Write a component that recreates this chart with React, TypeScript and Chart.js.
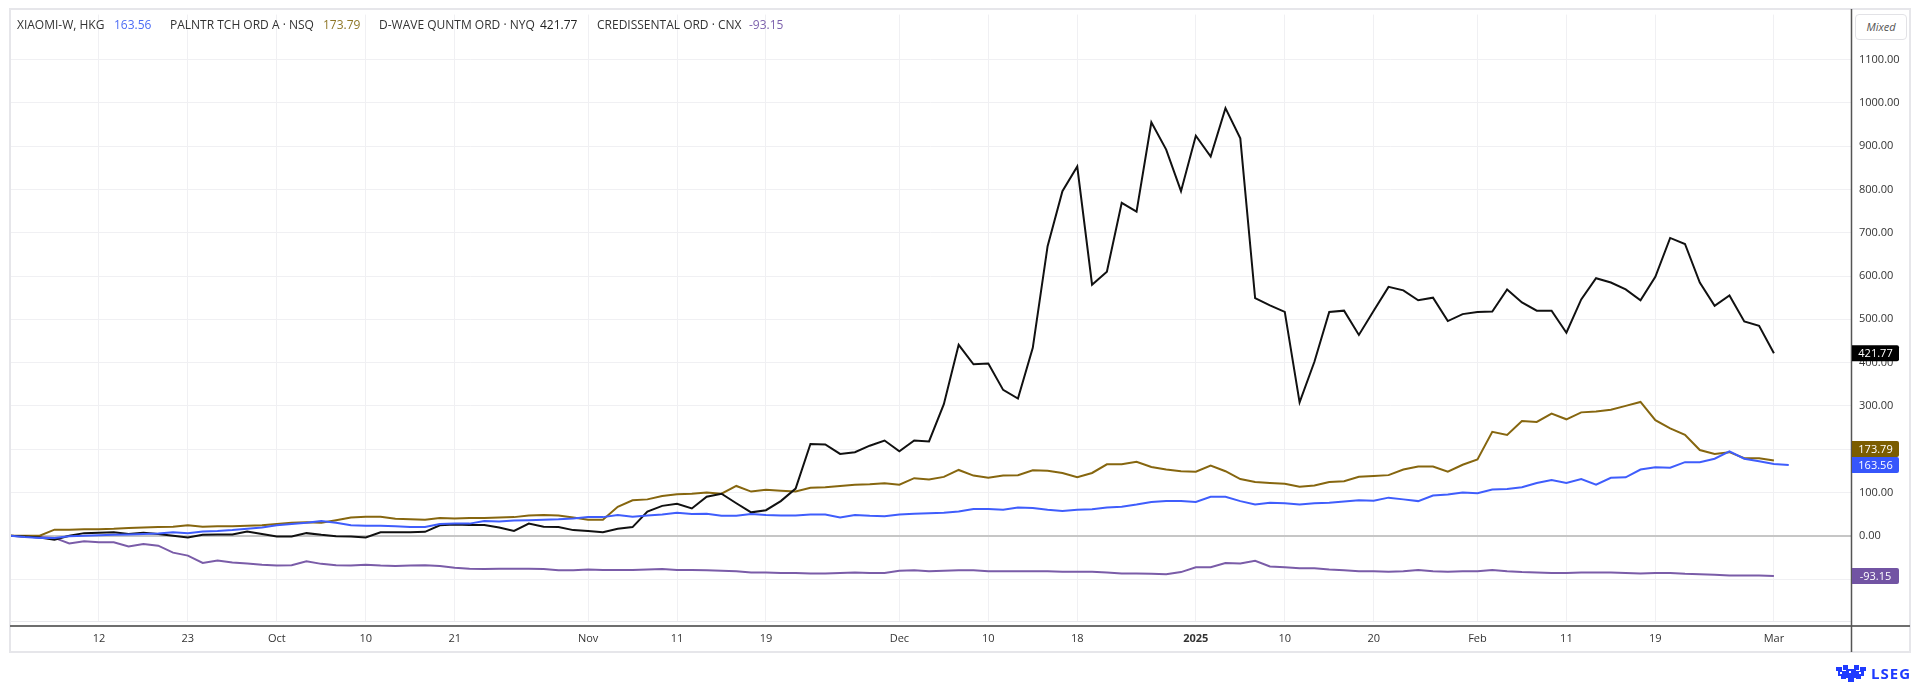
import { useEffect, useRef } from "react";
import { Chart, registerables } from "chart.js";

Chart.register(...registerables);

// HKG trading-day index 0 = 2024-09-04 ... 120 = 2025-03-04
const tickIdx = [6, 12, 18, 24, 30, 39, 45, 51, 60, 66, 72, 80, 86, 92, 99, 105, 111, 119];
const tickLabels = ["12", "23", "Oct", "10", "21", "Nov", "11", "19", "Dec", "10", "18", "2025", "10", "20", "Feb", "11", "19", "Mar"];
const yTicks = [-100, 0, 100, 200, 300, 400, 500, 600, 700, 800, 900, 1000, 1100];

const xiaomi = [
  0, -3, -5, -5, -1, 0, 1, 2, 3, 4, 5, 8, 6, 10, 11, 13, 16, 19, 24, 27,
  30, 34, 30, 24, 23, 23, 22, 20, 20, 27, 28, 28, 34, 33, 35, 36, 37, 38, 40, 43,
  43, 48, 44, 47, 49, 53, 50, 51, 46, 46, 50, 48, 47, 47, 49, 49, 42, 48, 46, 45,
  49, 51, 52, 53, 56, 62, 62, 60, 65, 64, 60, 57, 60, 61, 65, 67, 72, 78, 80, 80,
  78, 90, 90, 80, 72, 76, 75, 72, 75, 76, 79, 82, 81, 88, 84, 80, 93, 95, 100, 98,
  107, 108, 112, 122, 129, 122, 131, 118, 134, 135, 153, 158, 157, 170, 170, 178, 195, 178, 172, 166,
  163.56,
];

const palantir = [
  0, 0, 0, 14, 14, 15, 15, 16, 18, 19, 20, 21, 24, 21, 22, 22, 23, 24, 27, 30,
  31, 30, 36, 42, 44, 44, 39, 38, 37, 41, 40, 41, 41, 42, 43, 47, 48, 47, 42, 37,
  37, 67, 82, 84, 92, 96, 97, 100, 97, 115, 102, 106, 104, 102, 111, 112, 115, 118, 119, 121,
  118, 133, 130, 136, 152, 139, 134, 139, 140, 151, 150, 145, 135, 145, 165, 165, 171, 159, 153, 149,
  148, 162, 149, 131, 124, 122, 120, 113, 116, 124, 126, 136, 138, 140, 153, 160, 160, 148, 164, 176,
  240, 233, 265, 263, 282, 269, 285, 287, 291, 300, 309, 267, 248, 233, 198, 189, 193, 179, 179, 173.79,
];

const dwave = [
  0, -2, -4, -9, 0, 6, 7, 8, 4, 7, 4, 0, -4, 2, 3, 3, 10, 4, -2, -2,
  6, 2, -1, -2, -4, 8, 8, 8, 9, 24, 26, 25, 25, 19, 11, 28, 21, 20, 13, 11,
  8, 16, 20, 56, 69, 74, 63, 90, 97, 75, 54, 59, 80, 109, 212, 211, 189, 193, 208, 220,
  195, 220, 218, 304, 441, 396, 398, 337, 317, 434, 669, 796, 853, 580, 610, 769, 749, 955, 892, 796,
  924, 876, 988, 918, 549, 532, 517, 308, 402, 517, 520, 464, 520, 575, 567, 544, 550, 496, 512, 517,
  518, 569, 539, 520, 520, 469, 546, 595, 585, 569, 544, 598, 688, 674, 585, 531, 555, 495, 485, 421.77,
];

const credissental = [
  0, -2, -3, -5, -18, -13, -15, -15, -25, -19, -23, -39, -46, -63, -57, -62, -64, -67, -69, -68,
  -59, -65, -68, -69, -67, -69, -70, -69, -68, -70, -74, -76, -77, -76, -76, -76, -77, -80, -80, -78,
  -79, -79, -79, -78, -77, -79, -79, -80, -81, -82, -85, -85, -86, -86, -87, -87, -86, -85, -86, -86,
  -81, -80, -82, -81, -80, -80, -82, -82, -82, -82, -82, -83, -83, -83, -85, -87, -87, -88, -89, -84,
  -73, -73, -63, -64, -58, -71, -73, -75, -75, -78, -80, -82, -82, -83, -82, -79, -82, -83, -82, -82,
  -79, -82, -84, -85, -86, -86, -85, -85, -85, -86, -87, -86, -86, -88, -89, -90, -92, -92, -92, -93.15,
];

const seriesNames = ["XIAOMI-W, HKG", "PALNTR TCH ORD A · NSQ", "D-WAVE QUNTM ORD · NYQ", "CREDISSENTAL ORD · CNX"];
const lineColors = ["#3f5dfc", "#86660f", "#111111", "#7a5ca8"];
const tagColors = ["#3656fb", "#7b5d00", "#000000", "#7254a3"];
const legendValueColors = ["#4c6cf5", "#8f7727", "#222222", "#7d62ad"];

const FONT = "'Open Sans', 'Noto Sans', sans-serif";

export default function App() {
  const ref = useRef<HTMLCanvasElement>(null);

  useEffect(() => {
    document.body.style.margin = "0";
    const canvas = ref.current;
    if (!canvas) return;
    const all = [xiaomi, palantir, dwave, credissental];

    const framePlugin = {
      id: "frame",
      beforeDraw(chart: any) {
        const c = chart.ctx;
        c.save();
        c.fillStyle = "#ffffff";
        c.fillRect(0, 0, chart.width, chart.height);
        c.restore();
      },
      afterDraw(chart: any) {
        const c = chart.ctx;
        const area = chart.chartArea;
        c.save();
        // outer frame
        c.strokeStyle = "#e6e6ea";
        c.lineWidth = 2;
        c.strokeRect(10, 9, 1900, 643);
        // plot bottom light line
        c.strokeStyle = "#e8e8ec";
        c.lineWidth = 1;
        c.beginPath();
        c.moveTo(10, area.bottom + 0.5);
        c.lineTo(area.right, area.bottom + 0.5);
        c.stroke();
        // x axis dark line
        c.strokeStyle = "#6e6e6e";
        c.lineWidth = 2;
        c.beginPath();
        c.moveTo(10, 626);
        c.lineTo(1910, 626);
        c.stroke();
        // y axis dark line
        c.strokeStyle = "#555555";
        c.lineWidth = 1.5;
        c.beginPath();
        c.moveTo(area.right + 0.5, 9);
        c.lineTo(area.right + 0.5, 652);
        c.stroke();

        // price tags
        const y = chart.scales.y;
        const tags = all.map((arr, i) => ({ i, v: arr[arr.length - 1], py: y.getPixelForValue(arr[arr.length - 1]) }));
        const h = 16;
        tags.sort((a, b) => b.py - a.py);
        for (let k = 1; k < tags.length; k++) {
          if (tags[k - 1].py - tags[k].py < h) tags[k].py = tags[k - 1].py - h;
        }
        c.font = `11px ${FONT}`;
        c.textAlign = "center";
        c.textBaseline = "middle";
        tags.forEach((t) => {
          c.fillStyle = tagColors[t.i];
          c.beginPath();
          const x0 = area.right + 1;
          const w = 47;
          c.moveTo(x0, t.py - h / 2);
          c.lineTo(x0 + w - 2, t.py - h / 2);
          c.quadraticCurveTo(x0 + w, t.py - h / 2, x0 + w, t.py - h / 2 + 2);
          c.lineTo(x0 + w, t.py + h / 2 - 2);
          c.quadraticCurveTo(x0 + w, t.py + h / 2, x0 + w - 2, t.py + h / 2);
          c.lineTo(x0, t.py + h / 2);
          c.closePath();
          c.fill();
          c.fillStyle = "#ffffff";
          c.fillText(t.v.toFixed(2), x0 + w / 2, t.py + 0.5);
        });
        c.restore();
      },
    };

    const mk = (arr: number[], i: number) => ({
      label: seriesNames[i],
      data: arr.map((v, k) => ({ x: k, y: v })),
      borderColor: lineColors[i],
      backgroundColor: lineColors[i],
      borderWidth: 2,
      pointRadius: 0,
      tension: 0,
      fill: false,
    });

    const chart = new Chart(canvas, {
      type: "line",
      data: {
        datasets: [mk(xiaomi, 0), mk(dwave, 2), mk(palantir, 1), mk(credissental, 3)],
      },
      options: {
        animation: false,
        responsive: false,
        devicePixelRatio: 1,
        layout: { padding: { left: 10, top: 9, right: 10, bottom: 32 } },
        plugins: { legend: { display: false }, tooltip: { enabled: false } },
        scales: {
          x: {
            type: "linear",
            min: 0,
            max: 124.2,
            afterBuildTicks: (s: any) => {
              s.ticks = tickIdx.map((v) => ({ value: v }));
            },
            afterFit: (s: any) => {
              s.height = 31;
            },
            grid: { color: "#f0f0f3", lineWidth: 1, drawTicks: false },
            border: { display: false },
            ticks: {
              autoSkip: false,
              maxRotation: 0,
              padding: 11,
              color: "#333333",
              font: (c: any) => ({ family: FONT, size: 11, weight: c.index === 11 ? "bold" : "normal" }),
              callback: (_v: any, i: number) => tickLabels[i],
            },
          },
          y: {
            type: "linear",
            position: "right",
            min: -197,
            max: 1204,
            afterBuildTicks: (s: any) => {
              s.ticks = yTicks.map((v) => ({ value: v }));
            },
            afterFit: (s: any) => {
              s.width = 59;
            },
            grid: {
              drawTicks: false,
              color: (c: any) => (c.tick && c.tick.value === 0 ? "#c6c6c6" : "#f0f0f3"),
              lineWidth: (c: any) => (c.tick && c.tick.value === 0 ? 2 : 1),
            },
            border: { display: false },
            ticks: {
              padding: 8,
              color: "#333333",
              font: { family: FONT, size: 11 },
              callback: (v: any) => (v === 200 ? "" : Number(v).toFixed(2)),
            },
          },
        },
      },
      plugins: [framePlugin],
    } as any);
    return () => chart.destroy();
  }, []);

  const legendItems = [
    { name: seriesNames[0], nx: 17, val: "163.56", vx: 114, i: 0 },
    { name: seriesNames[1], nx: 170, val: "173.79", vx: 323, i: 1 },
    { name: seriesNames[2], nx: 379, val: "421.77", vx: 540, i: 2 },
    { name: seriesNames[3], nx: 597, val: "-93.15", vx: 749, i: 3 },
  ];

  return (
    <div style={{ position: "relative", width: 1920, height: 684, background: "#fff", overflow: "hidden", fontFamily: FONT }}>
      <canvas ref={ref} width={1920} height={684} style={{ position: "absolute", left: 0, top: 0, width: 1920, height: 684 }} />
      {legendItems.map((it) => (
        <div key={it.name}>
          <span style={{ position: "absolute", left: it.nx, top: 16, fontSize: 12, lineHeight: "18px", color: "#333", whiteSpace: "nowrap" }}>{it.name}</span>
          <span style={{ position: "absolute", left: it.vx, top: 16, fontSize: 12, lineHeight: "18px", color: legendValueColors[it.i], whiteSpace: "nowrap" }}>{it.val}</span>
        </div>
      ))}
      <div
        style={{
          position: "absolute",
          left: 1855,
          top: 14,
          width: 50,
          height: 24,
          border: "1px solid #e2e2e6",
          borderRadius: 4,
          background: "#fff",
          fontSize: 11,
          fontStyle: "italic",
          color: "#555",
          textAlign: "center",
          lineHeight: "24px",
        }}
      >
        Mixed
      </div>
      <svg style={{ position: "absolute", left: 1836, top: 665 }} width={30} height={17} viewBox="0 0 30 17">
        <g fill="#1f3bff">
          <rect x="0" y="2" width="6" height="4" />
          <rect x="2" y="6" width="8" height="5" />
          <rect x="7" y="0" width="5" height="5" />
          <rect x="10" y="4" width="10" height="9" />
          <rect x="12" y="12" width="6" height="5" />
          <rect x="18" y="0" width="5" height="5" />
          <rect x="20" y="6" width="8" height="5" />
          <rect x="24" y="2" width="6" height="4" />
          <rect x="5" y="11" width="5" height="3" />
          <rect x="20" y="11" width="5" height="3" />
        </g>
        <g fill="#ffffff">
          <rect x="13" y="6" width="2" height="2" />
          <rect x="4" y="7" width="2" height="2" />
          <rect x="23" y="7" width="2" height="2" />
        </g>
      </svg>
      <div style={{ position: "absolute", left: 1871, top: 663, fontSize: 15, fontWeight: "bold", color: "#1f3bff", letterSpacing: 1, lineHeight: "20px" }}>
        LSEG
      </div>
    </div>
  );
}
